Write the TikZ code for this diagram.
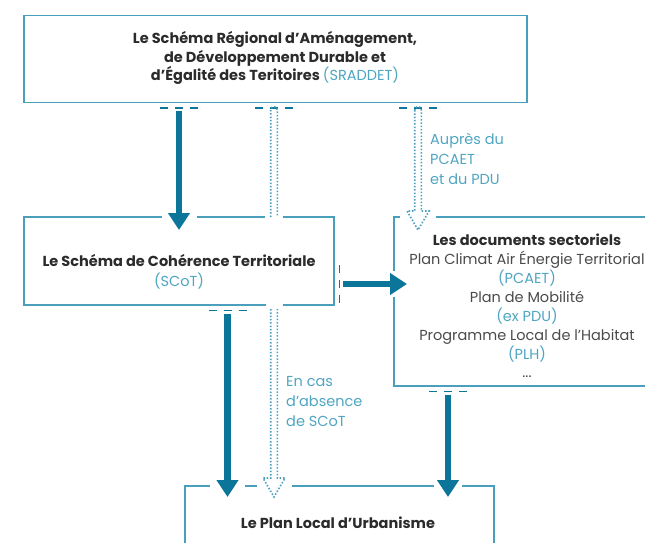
\documentclass[tikz,border=0pt]{standalone}
\usepackage{fontspec}
\setmainfont{Poppins}
\usetikzlibrary{arrows.meta,calc}

\definecolor{arrowteal}{HTML}{0B7699}
\definecolor{framecol}{HTML}{4A9FBD}
\definecolor{labelblue}{HTML}{4EA5C2}
\definecolor{dotcol}{HTML}{4B9FC2}
\definecolor{inkdark}{HTML}{2B2B2B}
\definecolor{inkgray}{HTML}{4A4A4A}

\tikzset{
  frame/.style={draw=framecol, line width=1.1pt, inner sep=0pt},
  title/.style={font=\fontsize{14.5}{18.5}\selectfont\bfseries, text=inkdark, align=center, inner sep=0pt},
  body/.style={font=\fontsize{14.5}{18.9}\selectfont, text=inkgray, align=center, inner sep=0pt},
  note/.style={font=\fontsize{14.5}{20}\selectfont, text=labelblue, align=left, inner sep=0pt, anchor=north west},
  strong/.style={draw=arrowteal, line width=6.5pt, -{Triangle[width=21pt,length=17pt]}},
  ticks/.style={draw=arrowteal, line width=1.4pt, dash pattern=on 8pt off 7pt},
  hollow/.style={draw=dotcol, line width=1.6pt, dash pattern=on 1.5pt off 1.8pt},
  knock/.style={fill=white, draw=none}
}

% hollow dotted arrow, rounded closed tail at #1, open head ending at #2
\newcommand\hollowarrow[2]{%
  \draw[hollow] let \p1=(#1), \p2=(#2) in
    (\x1-3.3pt,\y1) -- (\x1-3.3pt,\y2+19pt) -- (\x1-11pt,\y2+19pt) -- (\x2,\y2)
    -- (\x1+11pt,\y2+19pt) -- (\x1+3.3pt,\y2+19pt) -- (\x1+3.3pt,\y1)
    .. controls (\x1+3.3pt,\y1+4.5pt) and (\x1-3.3pt,\y1+4.5pt) .. (\x1-3.3pt,\y1);}
% hollow dotted arrow with an open tail
\newcommand\hollowarrowopen[2]{%
  \draw[hollow] let \p1=(#1), \p2=(#2) in
    (\x1-3.3pt,\y1) -- (\x1-3.3pt,\y2+19pt) -- (\x1-11pt,\y2+19pt) -- (\x2,\y2)
    -- (\x1+11pt,\y2+19pt) -- (\x1+3.3pt,\y2+19pt) -- (\x1+3.3pt,\y1);}
% pair of dotted rails with a rounded top, no head
\newcommand\hollowrails[2]{%
  \draw[hollow] let \p1=(#1), \p2=(#2) in
    (\x1-3.3pt,\y2) -- (\x1-3.3pt,\y1)
    .. controls (\x1-3.3pt,\y1+4.5pt) and (\x1+3.3pt,\y1+4.5pt) .. (\x1+3.3pt,\y1)
    -- (\x1+3.3pt,\y2);}

\begin{document}
\begin{tikzpicture}[x=1pt,y=-1pt]
\useasboundingbox (0,0) rectangle (645,542);
\clip (0,0) rectangle (645,542);

% frames
\node[frame, minimum width=503pt, minimum height=87pt] (sraddet) at (275.5,59) {};
\node[frame, minimum width=310pt, minimum height=88pt] (scot) at (179,261) {};
\node[frame, minimum width=266pt, minimum height=169pt] (docs) at (527,301.5) {};
\node[frame, minimum width=309pt, minimum height=94pt] (plu) at (339.5,533) {};

% connector end points
\coordinate (a1s) at (179,111);   \coordinate (a1e) at (179,230);
\coordinate (d1s) at (274,110);   \coordinate (d1e) at (274,217);
\coordinate (d2s) at (274,309);   \coordinate (d2e) at (274,497);
\coordinate (d3s) at (418,110);   \coordinate (d3e) at (418,230);
\coordinate (a2s) at (343,284);   \coordinate (a2e) at (407,284);
\coordinate (a3s) at (227.5,314); \coordinate (a3e) at (227.5,497);
\coordinate (a4s) at (448,395);   \coordinate (a4e) at (448,497);

% openings in the frames where connectors cross them
\fill[knock] ($(scot.north -| a1s)+(-17.5,-2.5)$) rectangle ($(scot.north -| a1s)+(17.5,2.5)$);
\fill[knock] ($(scot.north -| d1s)+(-9,-2.5)$) rectangle ($(scot.north -| d1s)+(9,2.5)$);
\fill[knock] ($(scot.south -| d2s)+(-8.5,-2.5)$) rectangle ($(scot.south -| d2s)+(8.5,2.5)$);
\fill[knock] ($(docs.north -| d3s)+(-18,-2.5)$) rectangle ($(docs.north -| d3s)+(18,2.5)$);
\fill[knock] ($(docs.west |- a2s)+(-2.5,-13)$) rectangle ($(docs.west |- a2s)+(2.5,13)$);
\fill[knock] ($(plu.north -| a3s)+(-17.5,-2.5)$) rectangle ($(plu.north -| a3s)+(17.5,2.5)$);
\fill[knock] ($(plu.north -| d2s)+(-17.5,-2.5)$) rectangle ($(plu.north -| d2s)+(17.5,2.5)$);
\fill[knock] ($(plu.north -| a4s)+(-14,-2.5)$) rectangle ($(plu.north -| a4s)+(14,2.5)$);

% dash marks at the start of each link
\draw[ticks] ($(sraddet.south -| a1s)+(-19,5)$) -- ($(sraddet.south -| a1s)+(19,5)$);
\draw[ticks] ($(sraddet.south -| d1s)+(-19,5)$) -- ($(sraddet.south -| d1s)+(19,5)$);
\draw[ticks] ($(sraddet.south -| d3s)+(-19,5)$) -- ($(sraddet.south -| d3s)+(19,5)$);
\draw[ticks] ($(scot.south -| a3s)+(-19,5)$) -- ($(scot.south -| a3s)+(19,5)$);
\draw[ticks] ($(docs.south -| a4s)+(-19,5)$) -- ($(docs.south -| a4s)+(19,5)$);
\draw[ticks] ($(scot.east |- a2s)+(5,-19)$) -- ($(scot.east |- a2s)+(5,19)$);

% links
\draw[strong] (a1s) -- (a1e);
\draw[strong] (a2s) -- (a2e);
\draw[strong] (a3s) -- (a3e);
\draw[strong] (a4s) -- (a4e);
\hollowrails{d1s}{d1e}
\hollowarrowopen{d2s}{d2e}
\hollowarrow{d3s}{d3e}

% texts
\node[title] (sraddet-t) at (275,58) {Le Schéma Régional d’Aménagement,\\de Développement Durable et\\d’Égalité des Teritoires {\mdseries\color{labelblue}(SRADDET)}};
\node[title] (scot-t) at (179,272) {Le Schéma de Cohérence Territoriale\\[2pt]{\mdseries\color{labelblue}(SCoT)}};
\node[body] (docs-t) at (527,306) {{\bfseries\color{inkdark}Les documents sectoriels}\\Plan Climat Air Énergie Territorial\\{\color{labelblue}(PCAET)}\\Plan de Mobilité\\{\color{labelblue}(ex PDU)}\\Programme Local de l’Habitat\\{\color{labelblue}(PLH)}\\...};
\node[title] (plu-t) at (338,523) {Le Plan Local d’Urbanisme};
\node[note] (n1) at (430,133) {Auprès du\\PCAET\\et du PDU};
\node[note] (n2) at (286,376) {En cas\\d’absence\\de SCoT};
\end{tikzpicture}
\end{document}
